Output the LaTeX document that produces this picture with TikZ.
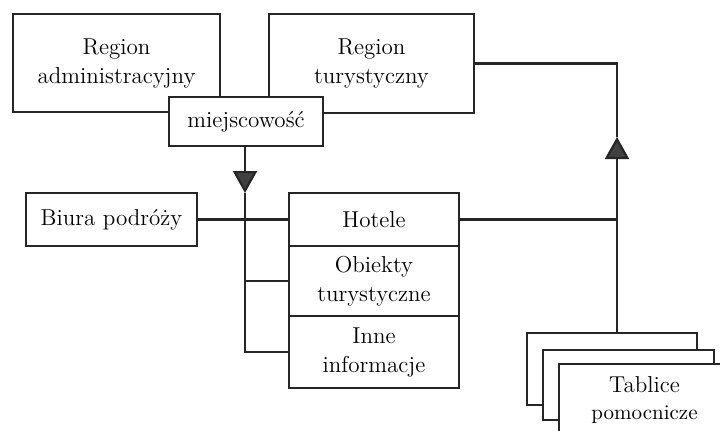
\documentclass[tikz,border=0pt]{standalone}
\usepackage{fontspec}
\usetikzlibrary{arrows.meta}

\tikzset{
  box/.style={draw=black!85, fill=white, line width=1.1pt, align=center,
    inner sep=0pt, font=\fontsize{11.5}{14.5}\selectfont},
  conn/.style={draw=black!85, line width=1.1pt},
  flow/.style={conn, -{Triangle[length=11pt, width=12pt, fill=black!75]}}
}

\begin{document}
\begin{tikzpicture}[x=0.5pt, y=-0.5pt]
  \clip (0,0) rectangle (720,430);
  \fill[white] (0,0) rectangle (720,430);

  % regiony
  \node[box, minimum width=103.5pt, minimum height=49pt] (regadm) at (116.5,63) {Region\\administracyjny};
  \node[box, minimum width=102.5pt, minimum height=49.5pt] (regtur) at (371.5,63.5) {Region\\turystyczny};
  \node[box, minimum width=77pt, minimum height=24.5pt] (miej) at (246,121.5) {miejscowość};

  % lewa kolumna
  \node[box, minimum width=85.5pt, minimum height=26.5pt] (biura) at (111.5,219.5) {Biura podróży};

  % tabela
  \node[box, minimum width=85pt, minimum height=26.5pt] (hotele) at (374,219.5) {Hotele};
  \node[box, minimum width=85pt, minimum height=35pt] (obiekty) at (374,281) {Obiekty\\turystyczne};
  \node[box, minimum width=85pt, minimum height=36pt] (inne) at (374,352) {Inne\\informacje};

  % tablice pomocnicze
  \node[box, minimum width=85pt, minimum height=36pt] (tab1) at (612,369) {};
  \node[box, minimum width=85.5pt, minimum height=35pt] (tab2) at (628.5,385) {};
  \node[box, minimum width=85.5pt, minimum height=36pt] (tab3) at (644.5,400)
    {Tablice\\[-1pt]{\fontsize{10.5}{13}\selectfont pomocnicze}};

  % polaczenia
  \coordinate (down) at (245,193);
  \coordinate (up) at (617,137);

  \draw[flow] (miej.south -| down) -- (down);
  \draw[conn] (down) |- (inne.west);
  \draw[conn] (obiekty.west -| down) -- (obiekty.west);
  \draw[conn] (biura.east) -- (hotele.west);

  \draw[flow] (tab1.north -| up) -- (up);
  \draw[conn] (up) |- (regtur.east);
  \draw[conn] (hotele.east) -- (hotele.east -| up);
\end{tikzpicture}
\end{document}
